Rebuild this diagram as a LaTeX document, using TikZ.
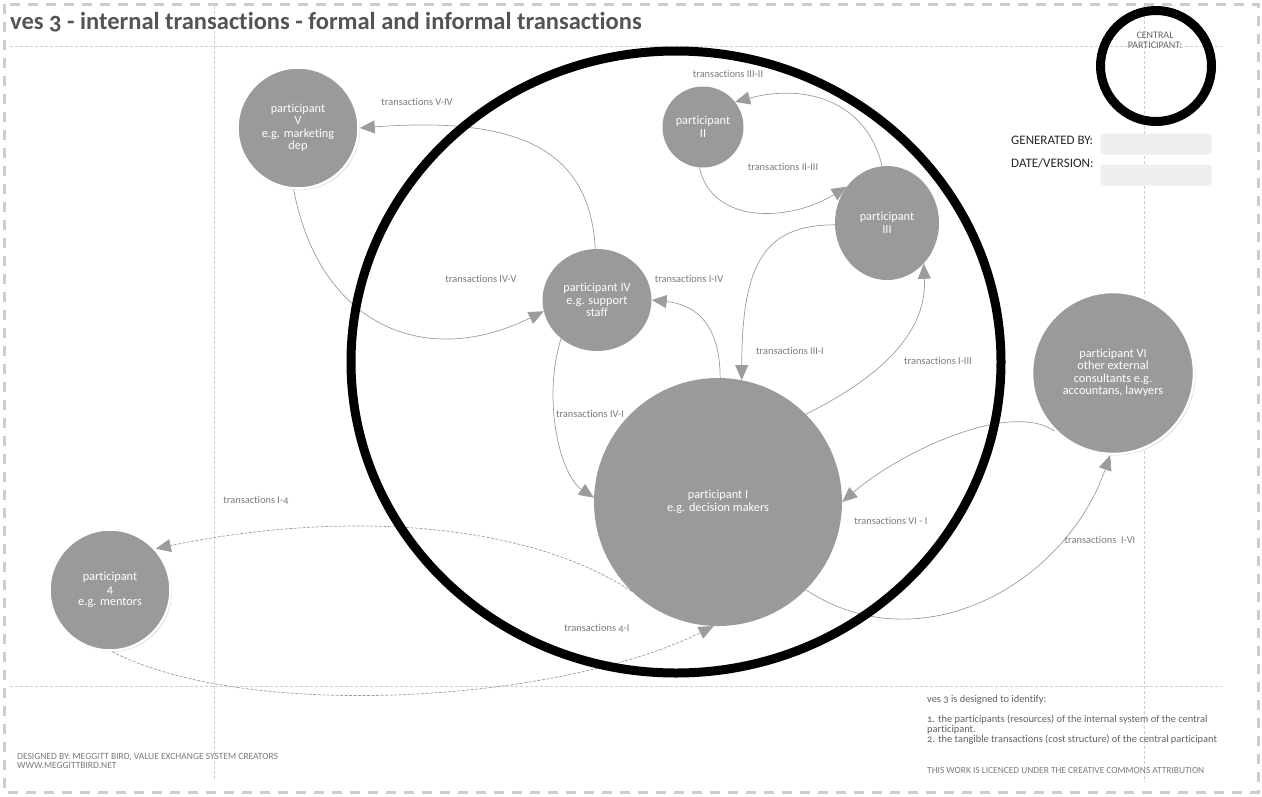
\documentclass[tikz,border=0pt]{standalone}
\usepackage{fontspec}
\setmainfont{Carlito}[Numbers=OldStyle, Ligatures=CommonOff]
\usetikzlibrary{positioning,arrows.meta,shapes.geometric,shadows}
\definecolor{partgray}{HTML}{9A9A9A}
\definecolor{linegray}{HTML}{9C9C9C}
\definecolor{txtgray}{HTML}{7A7A7A}
\definecolor{framegray}{HTML}{CDCDCD}
\definecolor{boxgray}{HTML}{EFEFEF}

\begin{document}
\begin{tikzpicture}[x=1pt, y=-1pt,
  part/.style={circle, fill=partgray, text=white, align=center, inner sep=0pt,
               font=\fontsize{12.3}{12.5}\selectfont},
  outpart/.style={part, draw=white, line width=2.5pt,
                  drop shadow={opacity=0.3, shadow xshift=1.5pt, shadow yshift=-1.5pt}},
  arr/.style={-{Triangle[length=15pt,width=13pt]}, draw=linegray, line width=0.7pt},
  dasharr/.style={arr, dash pattern=on 3pt off 1.5pt},
  lbl/.style={font=\fontsize{10.4}{12}\selectfont, text=txtgray, inner sep=1pt},
  frame/.style={draw=framegray, line width=3pt, dash pattern=on 10pt off 8pt},
  guide/.style={draw=framegray, line width=0.7pt, dash pattern=on 3pt off 2pt},
  note/.style={anchor=north west, text=txtgray, inner sep=0pt, align=left},
]
\useasboundingbox (0,0) rectangle (1262,796);

% frame and guides
\draw[frame] (4,4) rectangle (1258,792);
\draw[guide] (10,46) -- (1222,46);
\draw[guide] (10,686) -- (1222,686);
\draw[guide] (214,6) -- (214,780);
\draw[guide] (1144,6) -- (1144,782);

\node[anchor=base west, inner sep=0pt, text=black!67, font=\fontsize{24.5}{26}\selectfont\bfseries]
  (title) at (10,29) {ves 3 - internal transactions - formal and informal transactions};

% central participant
\node[circle, draw=black, line width=9pt, minimum size=111pt] (central) at (1156,66) {};
\node[text=black!60, align=center, font=\fontsize{10}{10}\selectfont, inner sep=0pt]
  (centraltxt) at (1155,40) {CENTRAL\\PARTICIPANT:};

\node[anchor=west, inner sep=0pt, font=\fontsize{13}{14}\selectfont, text=black!85] (genby) at (1011,140) {GENERATED BY:};
\node[anchor=west, inner sep=0pt, font=\fontsize{13}{14}\selectfont, text=black!85] (datever) at (1011,163) {DATE/VERSION:};
\node[fill=boxgray, rounded corners=3pt, minimum width=111pt, minimum height=21pt] (genbox) at (1156,144) {};
\node[fill=boxgray, rounded corners=3pt, minimum width=111pt, minimum height=21pt] (datebox) at (1156,175) {};

% participants
\node[part, minimum size=248pt] (p1) at (718,502) {participant I\\e.g. decision makers};
\node[part, minimum size=81pt] (p2) at (703,127) {participant\\II};
\node[part, ellipse, minimum width=104pt, minimum height=114pt] (p3) at (887,223) {participant\\III};
\node[part, ellipse, minimum width=109pt, minimum height=102pt] (p4) at (597,300) {participant IV\\e.g. support\\staff};
\node[outpart, minimum size=121pt] (p5) at (298,128) {participant\\V\\e.g. marketing\\dep};
\node[outpart, minimum size=162pt] (p6) at (1113,373) {participant VI\\other external\\consultants e.g.\\accountans, lawyers};
\node[outpart, minimum size=121pt] (p4x) at (110,590) {participant\\4\\e.g. mentors};

% transactions
\draw[arr] (p4.92) .. controls (590,150) and (520,116) .. (p5.east);
\draw[arr] (p5.266) .. controls (318,320) and (420,372) .. (p4.192);
\draw[arr] (p3.95) .. controls (868,105) and (810,82) .. (p2.38);
\draw[arr] (p2.265) .. controls (712,225) and (790,222) .. (p3.138);
\draw[arr] (p3.182) .. controls (765,225) and (742,262) .. (p1.79);
\draw[arr] (p1.45) .. controls (885,375) and (927,330) .. (p3.-48);
\draw[arr] (p1.89) .. controls (720,318) and (690,304) .. (p4.0);
\draw[arr] (p4.-133) .. controls (542,400) and (560,475) .. (p1.178);
\draw[arr] (p6.-135) .. controls (1010,400) and (900,452) .. (p1.0);
\draw[arr] (p1.-45) .. controls (920,665) and (1065,585) .. (p6.-92);
\draw[dasharr] (p1.-134) .. controls (520,518) and (330,512) .. (p4x.42);
\draw[dasharr] (p4x.-88) .. controls (250,722) and (560,702) .. (p1.-92);

\node[lbl] (t54) at (417,102) {transactions V-IV};
\node[lbl] (t45) at (481,279) {transactions IV-V};
\node[lbl] (t32) at (728,74) {transactions III-II};
\node[lbl] (t23) at (783,167) {transactions II-III};
\node[lbl] (t31) at (790,351) {transactions III-I};
\node[lbl] (t13) at (938,361) {transactions I-III};
\node[lbl] (t14) at (689,279) {transactions I-IV};
\node[lbl] (t41) at (590,414) {transactions IV-I};
\node[lbl] (t61) at (891,521) {transactions VI - I};
\node[lbl] (t16) at (1100,540) {transactions ~I-VI};
\node[lbl] (t1x) at (256,500) {transactions I-4};
\node[lbl] (tx1) at (597,628) {transactions 4-I};

% internal system boundary
\draw[line width=9pt] (676,362) ellipse [x radius=325, y radius=311];

% footer
\node[note, font=\fontsize{9.5}{9}\selectfont] (designed) at (17,753)
  {DESIGNED BY: MEGGITT BIRD, VALUE EXCHANGE SYSTEM CREATORS\\WWW.MEGGITTBIRD.NET};
\node[note, font=\fontsize{10.4}{10}\selectfont, text=black!62] (aim) at (927,695)
  {ves 3 is designed to identify:\\[10pt]
   1. the participants (resources) of the internal system of the central\\
   participant.\\
   2. the tangible transactions (cost structure) of the central participant};
\node[note, font=\fontsize{9.4}{10}\selectfont] (licence) at (927,767)
  {THIS WORK IS LICENCED UNDER THE CREATIVE COMMONS ATTRIBUTION};
\end{tikzpicture}
\end{document}
